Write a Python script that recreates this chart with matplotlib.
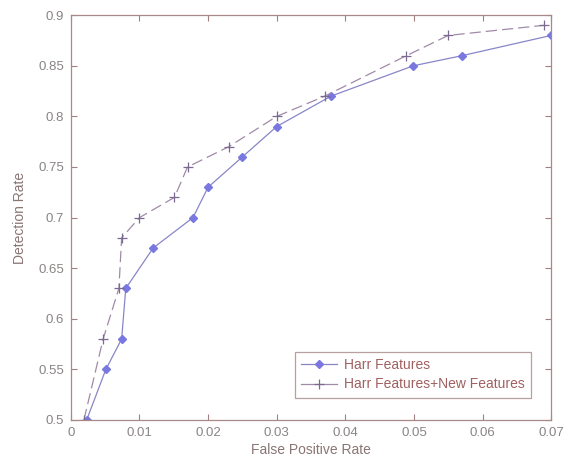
import matplotlib
matplotlib.use("Agg")
import matplotlib.pyplot as plt

fpr_harr = [0.0023, 0.0051, 0.0074, 0.0080, 0.0120, 0.0178, 0.0200, 0.0250, 0.0300, 0.0379, 0.0499, 0.0570, 0.0700]
det_harr = [0.50, 0.55, 0.58, 0.63, 0.67, 0.70, 0.73, 0.76, 0.79, 0.82, 0.85, 0.86, 0.88]

fpr_new = [0.0019, 0.0047, 0.0070, 0.0074, 0.0100, 0.0151, 0.0170, 0.0230, 0.0300, 0.0370, 0.0489, 0.0550, 0.0689]
det_new = [0.50, 0.58, 0.63, 0.68, 0.70, 0.72, 0.75, 0.77, 0.80, 0.82, 0.86, 0.88, 0.89]

xticks = [0, 0.01, 0.02, 0.03, 0.04, 0.05, 0.06, 0.07]
xticklabels = ["0", "0.01", "0.02", "0.03", "0.04", "0.05", "0.06", "0.07"]
yticks = [0.5, 0.55, 0.6, 0.65, 0.7, 0.75, 0.8, 0.85, 0.9]
yticklabels = ["0.5", "0.55", "0.6", "0.65", "0.7", "0.75", "0.8", "0.85", "0.9"]

plt.rcParams['font.family'] = ['Liberation Sans', 'DejaVu Sans']

fig = plt.figure(figsize=(5.67, 4.61), dpi=100)
ax = fig.add_axes([0.125, 0.089, 0.847, 0.878])

ax.plot(fpr_harr, det_harr, '-', color='#8886c8', lw=0.9, marker='D', ms=4,
        mfc='#7878e0', mec='#7878e0', label='Harr Features')
ax.plot(fpr_new, det_new, '--', dashes=(9, 4), color='#a08aa8', lw=0.9, marker='+', ms=7,
        mec='#7a6a90', mew=0.9, label='Harr Features+New Features')

ax.set_xlim(0, 0.07)
ax.set_ylim(0.5, 0.9)
ax.set_xticks(xticks)
ax.set_xticklabels(xticklabels)
ax.set_yticks(yticks)
ax.set_yticklabels(yticklabels)

tc = '#8a8484'
for s in ax.spines.values():
    s.set_color('#a88888')
    s.set_linewidth(0.9)
ax.tick_params(direction='in', length=4, color='#a08080', labelcolor=tc, labelsize=9.5,
               top=True, right=True, width=0.8, pad=5)
ax.set_xlabel('False Positive Rate', color='#8a7474', fontsize=10, labelpad=3)
ax.set_ylabel('Detection Rate', color='#8a7474', fontsize=10, labelpad=8)

leg = ax.legend(loc='lower right', bbox_to_anchor=(0.958, 0.055), fontsize=10, fancybox=False,
                handlelength=2.6, borderpad=0.45, labelspacing=0.4, handletextpad=0.5,
                borderaxespad=0)
leg.get_frame().set_edgecolor('#a88888')
leg.get_frame().set_linewidth(0.9)
for t in leg.get_texts():
    t.set_color('#a06060')
for ln in leg.get_lines():
    ln.set_linestyle('-')

fig.savefig('out.png', dpi=100)
